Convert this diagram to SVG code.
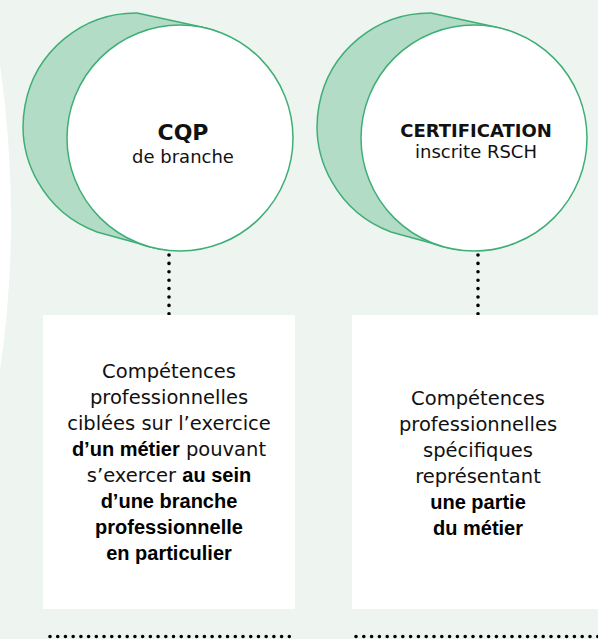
<svg xmlns="http://www.w3.org/2000/svg" width="598" height="639" viewBox="0 0 598 639">
  <style>
    .hull { fill: #b3dcc6; stroke: #3fae76; stroke-width: 1.5; stroke-linejoin: round; }
    .face { fill: #ffffff; stroke: #3fae76; stroke-width: 1.5; }
    .box { fill: #ffffff; }
    .title { font-family: "DejaVu Sans", sans-serif; font-weight: bold; fill: #111; text-anchor: middle; }
    .sub { font-family: "DejaVu Sans", sans-serif; font-size: 18px; fill: #111; text-anchor: middle; }
    .body { font-family: "DejaVu Sans", sans-serif; font-size: 19.5px; fill: #111; text-anchor: middle; }
    .b { font-family: "Liberation Sans", Arial, sans-serif; font-weight: bold; font-size: 20px; fill: #000; }
    .dots { stroke: #000; stroke-width: 3.6; stroke-linecap: round; fill: none; }
  </style>
  <rect x="0" y="0" width="598" height="639" fill="#eef5f0"/>
  <path d="M0,65 Q22,220 0,370 Z" fill="#ffffff"/>

  <g id="connectors">
    <line class="dots" x1="169" y1="255" x2="169" y2="314" stroke-dasharray="0 8.4"/>
    <line class="dots" x1="478" y1="255" x2="478" y2="314" stroke-dasharray="0 8.4"/>
    <line class="dots" x1="50" y1="636.5" x2="297" y2="636.5" stroke-dasharray="0 7.72"/>
    <line class="dots" x1="356" y1="636.5" x2="598" y2="636.5" stroke-dasharray="0 7.8"/>
  </g>

  <g id="node-cqp">
    <path class="hull" d="M137,13 L197,26 A113,113 0 1,1 137,243 L97,232 A113,113 0 0,1 137,13 Z"/>
    <circle class="face" cx="180" cy="138" r="113"/>
    <text class="title" x="183" y="140" font-size="22">CQP</text>
    <text class="sub" x="183" y="163">de branche</text>
  </g>

  <g id="node-certification">
    <path class="hull" d="M431,13 L491,26 A113,113 0 1,1 431,243 L391,232 A113,113 0 0,1 431,13 Z"/>
    <circle class="face" cx="474" cy="138" r="113"/>
    <text class="title" x="476" y="137" font-size="18">CERTIFICATION</text>
    <text class="sub" x="476" y="158">inscrite RSCH</text>
  </g>

  <g id="box-cqp">
    <rect class="box" x="43" y="315" width="252" height="294"/>
    <text class="body" x="169" y="378">Compétences</text>
    <text class="body" x="169" y="404">professionnelles</text>
    <text class="body" x="169" y="430">ciblées sur l’exercice</text>
    <text class="body" x="169" y="456"><tspan class="b">d’un métier</tspan> pouvant</text>
    <text class="body" x="169" y="482">s’exercer <tspan class="b">au sein</tspan></text>
    <text class="body" x="169" y="508"><tspan class="b">d’une branche</tspan></text>
    <text class="body" x="169" y="534"><tspan class="b">professionnelle</tspan></text>
    <text class="body" x="169" y="560"><tspan class="b">en particulier</tspan></text>
  </g>

  <g id="box-certification">
    <rect class="box" x="352" y="315" width="246" height="294"/>
    <text class="body" x="478" y="405">Compétences</text>
    <text class="body" x="478" y="431">professionnelles</text>
    <text class="body" x="478" y="457">spécifiques</text>
    <text class="body" x="478" y="483">représentant</text>
    <text class="body" x="478" y="509"><tspan class="b">une partie</tspan></text>
    <text class="body" x="478" y="535"><tspan class="b">du métier</tspan></text>
  </g>
</svg>
